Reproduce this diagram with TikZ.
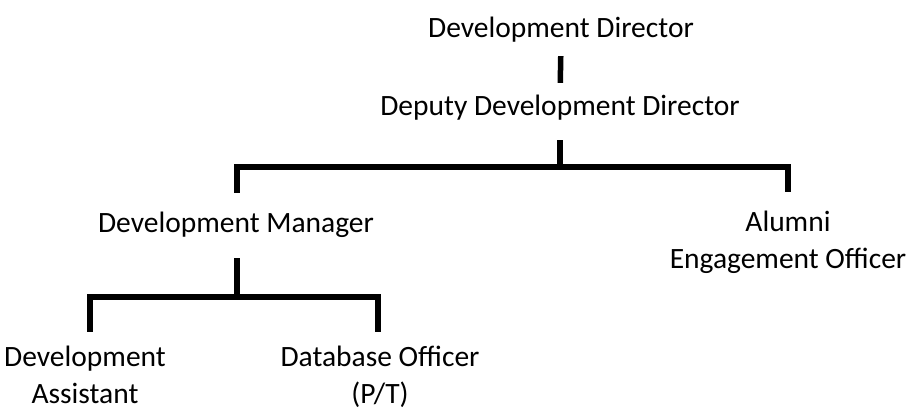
\documentclass[tikz,border=0pt]{standalone}
\usepackage{fontspec}
\setmainfont{Carlito}
\begin{document}
\begin{tikzpicture}[x=1pt,y=-1pt,
  lbl/.style={font=\fontsize{29.5}{37}\selectfont, align=center, inner sep=0pt, anchor=base, text height=18pt, text depth=6pt},
  lbltwo/.style={lbl, text height=55pt},
  conn/.style={line width=5.5pt, draw=black}]
\useasboundingbox (0,0) rectangle (910,410);
\node[lbl] (dd) at (561,37) {Development Director};
\node[lbl] (deputy) at (560,115) {Deputy Development Director};
\node[lbl] (mgr) at (236,232) {Development Manager};
\node[lbltwo] (alumni) at (788,268) {Alumni\\Engagement Officer};
\node[lbltwo] (asst) at (85,403) {Development\\Assistant};
\node[lbltwo] (dbo) at (380,403) {Database Officer\\(P/T)};
\coordinate (j1) at (560,167);
\coordinate (j2) at (237,297);
\draw[conn, shorten <=13pt, shorten >=14pt] (dd.south) -- (deputy.north);
\draw[conn, shorten <=19pt] (deputy.south) -- (j1);
\draw[conn, shorten <=21pt, shorten >=21pt] (mgr.north -| j2) |- (j1) -| (alumni.north);
\draw[conn, shorten <=20pt] (mgr.south -| j2) -- (j2);
\draw[conn, shorten <=16pt, shorten >=16pt] ([xshift=5pt]asst.north) |- (j2) -| ([xshift=-2pt]dbo.north);
\end{tikzpicture}
\end{document}
